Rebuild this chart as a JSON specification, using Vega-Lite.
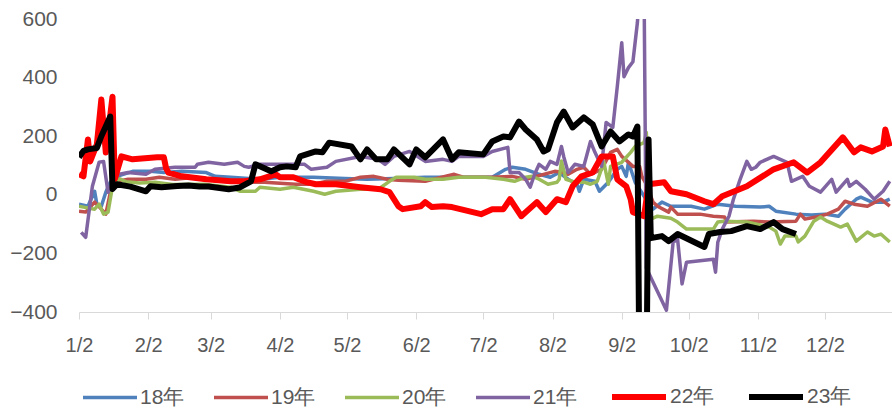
{
"$schema":"https://vega.github.io/schema/vega-lite/v6.json",
"width":813,"height":293,
"autosize":{"type":"none"},
"padding":{"left":79,"top":19,"right":0,"bottom":96},
"background":"white",
"config":{"view":{"stroke":null},"font":"Liberation Sans"},
"data":{"values":[
{"date":"2023-01-02","series":"18年","value":-32},{"date":"2023-01-06","series":"18年","value":-39},{"date":"2023-01-09","series":"18年","value":12},{"date":"2023-01-10","series":"18年","value":-32},{"date":"2023-01-12","series":"18年","value":-39},{"date":"2023-01-14","series":"18年","value":9},{"date":"2023-01-16","series":"18年","value":43},{"date":"2023-01-19","series":"18年","value":63},{"date":"2023-01-26","series":"18年","value":80},{"date":"2023-02-03","series":"18年","value":80},{"date":"2023-02-09","series":"18年","value":76},{"date":"2023-02-17","series":"18年","value":80},{"date":"2023-02-28","series":"18年","value":76},{"date":"2023-03-04","series":"18年","value":63},{"date":"2023-03-11","series":"18年","value":60},{"date":"2023-03-24","series":"18年","value":53},{"date":"2023-04-02","series":"18年","value":60},{"date":"2023-04-17","series":"18年","value":60},{"date":"2023-05-01","series":"18年","value":56},{"date":"2023-05-11","series":"18年","value":53},{"date":"2023-05-23","series":"18年","value":56},{"date":"2023-06-06","series":"18年","value":60},{"date":"2023-06-21","series":"18年","value":60},{"date":"2023-07-06","series":"18年","value":60},{"date":"2023-07-12","series":"18年","value":87},{"date":"2023-07-15","series":"18年","value":94},{"date":"2023-07-21","series":"18年","value":87},{"date":"2023-07-27","series":"18年","value":70},{"date":"2023-08-01","series":"18年","value":60},{"date":"2023-08-05","series":"18年","value":76},{"date":"2023-08-09","series":"18年","value":53},{"date":"2023-08-13","series":"18年","value":36},{"date":"2023-08-14","series":"18年","value":12},{"date":"2023-08-16","series":"18年","value":53},{"date":"2023-08-21","series":"18年","value":46},{"date":"2023-08-23","series":"18年","value":12},{"date":"2023-08-27","series":"18年","value":43},{"date":"2023-08-31","series":"18年","value":87},{"date":"2023-09-02","series":"18年","value":97},{"date":"2023-09-04","series":"18年","value":63},{"date":"2023-09-05","series":"18年","value":111},{"date":"2023-09-08","series":"18年","value":43},{"date":"2023-09-12","series":"18年","value":-5},{"date":"2023-09-16","series":"18年","value":-49},{"date":"2023-09-20","series":"18年","value":-25},{"date":"2023-09-24","series":"18年","value":-39},{"date":"2023-10-03","series":"18年","value":-39},{"date":"2023-10-09","series":"18年","value":-49},{"date":"2023-10-15","series":"18年","value":-32},{"date":"2023-10-23","series":"18年","value":-39},{"date":"2023-11-03","series":"18年","value":-42},{"date":"2023-11-07","series":"18年","value":-39},{"date":"2023-11-10","series":"18年","value":-56},{"date":"2023-11-19","series":"18年","value":-66},{"date":"2023-11-26","series":"18年","value":-69},{"date":"2023-12-02","series":"18年","value":-66},{"date":"2023-12-08","series":"18年","value":-73},{"date":"2023-12-11","series":"18年","value":-49},{"date":"2023-12-16","series":"18年","value":-15},{"date":"2023-12-18","series":"18年","value":-8},{"date":"2023-12-23","series":"18年","value":-25},{"date":"2023-12-28","series":"18年","value":-25},{"date":"2023-12-31","series":"18年","value":-15},
{"date":"2023-01-02","series":"19年","value":-56},{"date":"2023-01-05","series":"19年","value":-59},{"date":"2023-01-09","series":"19年","value":-25},{"date":"2023-01-12","series":"19年","value":-49},{"date":"2023-01-14","series":"19年","value":-66},{"date":"2023-01-17","series":"19年","value":43},{"date":"2023-01-24","series":"19年","value":53},{"date":"2023-02-01","series":"19年","value":53},{"date":"2023-02-07","series":"19年","value":60},{"date":"2023-02-14","series":"19年","value":53},{"date":"2023-02-23","series":"19年","value":60},{"date":"2023-03-11","series":"19年","value":43},{"date":"2023-03-26","series":"19年","value":43},{"date":"2023-04-09","series":"19年","value":36},{"date":"2023-04-17","series":"19年","value":36},{"date":"2023-04-23","series":"19年","value":46},{"date":"2023-05-01","series":"19年","value":46},{"date":"2023-05-08","series":"19年","value":60},{"date":"2023-05-14","series":"19年","value":63},{"date":"2023-05-20","series":"19年","value":53},{"date":"2023-05-25","series":"19年","value":50},{"date":"2023-06-06","series":"19年","value":46},{"date":"2023-06-19","series":"19年","value":70},{"date":"2023-06-23","series":"19年","value":60},{"date":"2023-07-06","series":"19年","value":60},{"date":"2023-07-15","series":"19年","value":63},{"date":"2023-07-21","series":"19年","value":53},{"date":"2023-08-03","series":"19年","value":80},{"date":"2023-08-07","series":"19年","value":76},{"date":"2023-08-09","series":"19年","value":70},{"date":"2023-08-13","series":"19年","value":87},{"date":"2023-08-16","series":"19年","value":94},{"date":"2023-08-19","series":"19年","value":70},{"date":"2023-08-24","series":"19年","value":87},{"date":"2023-08-28","series":"19年","value":145},{"date":"2023-08-31","series":"19年","value":155},{"date":"2023-09-02","series":"19年","value":131},{"date":"2023-09-05","series":"19年","value":111},{"date":"2023-09-07","series":"19年","value":97},{"date":"2023-09-10","series":"19年","value":97},{"date":"2023-09-11","series":"19年","value":63},{"date":"2023-09-13","series":"19年","value":36},{"date":"2023-09-16","series":"19年","value":-25},{"date":"2023-09-18","series":"19年","value":-39},{"date":"2023-09-23","series":"19年","value":-59},{"date":"2023-09-24","series":"19年","value":-42},{"date":"2023-09-27","series":"19年","value":-66},{"date":"2023-10-07","series":"19年","value":-66},{"date":"2023-10-13","series":"19年","value":-73},{"date":"2023-10-18","series":"19年","value":-76},{"date":"2023-10-19","series":"19年","value":-93},{"date":"2023-10-31","series":"19年","value":-90},{"date":"2023-11-07","series":"19年","value":-93},{"date":"2023-11-19","series":"19年","value":-90},{"date":"2023-11-21","series":"19年","value":-66},{"date":"2023-11-23","series":"19年","value":-83},{"date":"2023-11-28","series":"19年","value":-76},{"date":"2023-12-03","series":"19年","value":-66},{"date":"2023-12-08","series":"19年","value":-49},{"date":"2023-12-11","series":"19年","value":-22},{"date":"2023-12-15","series":"19年","value":-32},{"date":"2023-12-21","series":"19年","value":-39},{"date":"2023-12-27","series":"19年","value":-15},{"date":"2023-12-31","series":"19年","value":-39},
{"date":"2023-01-02","series":"20年","value":-39},{"date":"2023-01-04","series":"20年","value":-42},{"date":"2023-01-09","series":"20年","value":-49},{"date":"2023-01-11","series":"20年","value":-32},{"date":"2023-01-13","series":"20年","value":-66},{"date":"2023-01-15","series":"20年","value":-59},{"date":"2023-01-17","series":"20年","value":29},{"date":"2023-01-20","series":"20年","value":55},{"date":"2023-01-23","series":"20年","value":45},{"date":"2023-01-29","series":"20年","value":40},{"date":"2023-02-05","series":"20年","value":43},{"date":"2023-02-13","series":"20年","value":35},{"date":"2023-02-27","series":"20年","value":36},{"date":"2023-03-11","series":"20年","value":26},{"date":"2023-03-15","series":"20年","value":12},{"date":"2023-03-22","series":"20年","value":12},{"date":"2023-03-24","series":"20年","value":26},{"date":"2023-04-02","series":"20年","value":19},{"date":"2023-04-08","series":"20年","value":26},{"date":"2023-04-17","series":"20年","value":12},{"date":"2023-04-22","series":"20年","value":2},{"date":"2023-04-27","series":"20年","value":12},{"date":"2023-05-08","series":"20年","value":19},{"date":"2023-05-16","series":"20年","value":19},{"date":"2023-05-21","series":"20年","value":46},{"date":"2023-05-24","series":"20年","value":60},{"date":"2023-06-01","series":"20年","value":60},{"date":"2023-06-06","series":"20年","value":53},{"date":"2023-06-14","series":"20年","value":53},{"date":"2023-06-21","series":"20年","value":60},{"date":"2023-07-03","series":"20年","value":60},{"date":"2023-07-11","series":"20年","value":53},{"date":"2023-07-16","series":"20年","value":46},{"date":"2023-07-21","series":"20年","value":60},{"date":"2023-07-24","series":"20年","value":63},{"date":"2023-07-27","series":"20年","value":53},{"date":"2023-07-31","series":"20年","value":36},{"date":"2023-08-04","series":"20年","value":43},{"date":"2023-08-05","series":"20年","value":53},{"date":"2023-08-06","series":"20年","value":115},{"date":"2023-08-08","series":"20年","value":53},{"date":"2023-08-12","series":"20年","value":43},{"date":"2023-08-16","series":"20年","value":43},{"date":"2023-08-19","series":"20年","value":36},{"date":"2023-08-22","series":"20年","value":46},{"date":"2023-08-25","series":"20年","value":111},{"date":"2023-08-27","series":"20年","value":36},{"date":"2023-08-28","series":"20年","value":97},{"date":"2023-09-02","series":"20年","value":111},{"date":"2023-09-06","series":"20年","value":145},{"date":"2023-09-08","series":"20年","value":165},{"date":"2023-09-12","series":"20年","value":178},{"date":"2023-09-13","series":"20年","value":213},{"date":"2023-09-15","series":"20年","value":-83},{"date":"2023-09-18","series":"20年","value":-73},{"date":"2023-09-24","series":"20年","value":-80},{"date":"2023-09-27","series":"20年","value":-93},{"date":"2023-10-01","series":"20年","value":-117},{"date":"2023-10-13","series":"20年","value":-117},{"date":"2023-10-15","series":"20年","value":-93},{"date":"2023-10-18","series":"20年","value":-90},{"date":"2023-10-28","series":"20年","value":-93},{"date":"2023-11-07","series":"20年","value":-110},{"date":"2023-11-10","series":"20年","value":-124},{"date":"2023-11-12","series":"20年","value":-168},{"date":"2023-11-14","series":"20年","value":-141},{"date":"2023-11-19","series":"20年","value":-141},{"date":"2023-11-20","series":"20年","value":-161},{"date":"2023-11-23","series":"20年","value":-141},{"date":"2023-11-27","series":"20年","value":-90},{"date":"2023-11-30","series":"20年","value":-76},{"date":"2023-12-03","series":"20年","value":-90},{"date":"2023-12-09","series":"20年","value":-110},{"date":"2023-12-12","series":"20年","value":-100},{"date":"2023-12-16","series":"20年","value":-158},{"date":"2023-12-21","series":"20年","value":-127},{"date":"2023-12-24","series":"20年","value":-141},{"date":"2023-12-27","series":"20年","value":-134},{"date":"2023-12-31","series":"20年","value":-161},
{"date":"2023-01-03","series":"21年","value":-128},{"date":"2023-01-05","series":"21年","value":-145},{"date":"2023-01-08","series":"21年","value":29},{"date":"2023-01-11","series":"21年","value":111},{"date":"2023-01-13","series":"21年","value":114},{"date":"2023-01-15","series":"21年","value":9},{"date":"2023-01-18","series":"21年","value":53},{"date":"2023-01-20","series":"21年","value":70},{"date":"2023-01-24","series":"21年","value":76},{"date":"2023-02-01","series":"21年","value":70},{"date":"2023-02-05","series":"21年","value":87},{"date":"2023-02-14","series":"21年","value":94},{"date":"2023-02-23","series":"21年","value":94},{"date":"2023-02-24","series":"21年","value":104},{"date":"2023-03-01","series":"21年","value":111},{"date":"2023-03-08","series":"21年","value":104},{"date":"2023-03-14","series":"21年","value":111},{"date":"2023-03-17","series":"21年","value":97},{"date":"2023-03-19","series":"21年","value":94},{"date":"2023-03-24","series":"21年","value":104},{"date":"2023-04-05","series":"21年","value":104},{"date":"2023-04-13","series":"21年","value":104},{"date":"2023-04-16","series":"21年","value":87},{"date":"2023-04-23","series":"21年","value":94},{"date":"2023-04-27","series":"21年","value":114},{"date":"2023-05-08","series":"21年","value":131},{"date":"2023-05-16","series":"21年","value":121},{"date":"2023-05-19","series":"21年","value":104},{"date":"2023-05-23","series":"21年","value":131},{"date":"2023-05-30","series":"21年","value":148},{"date":"2023-06-06","series":"21年","value":114},{"date":"2023-06-14","series":"21年","value":121},{"date":"2023-06-18","series":"21年","value":114},{"date":"2023-06-21","series":"21年","value":131},{"date":"2023-07-02","series":"21年","value":131},{"date":"2023-07-06","series":"21年","value":148},{"date":"2023-07-13","series":"21年","value":162},{"date":"2023-07-14","series":"21年","value":76},{"date":"2023-07-18","series":"21年","value":76},{"date":"2023-07-21","series":"21年","value":53},{"date":"2023-07-23","series":"21年","value":26},{"date":"2023-07-25","series":"21年","value":70},{"date":"2023-07-27","series":"21年","value":104},{"date":"2023-07-30","series":"21年","value":87},{"date":"2023-08-01","series":"21年","value":114},{"date":"2023-08-04","series":"21年","value":104},{"date":"2023-08-06","series":"21年","value":165},{"date":"2023-08-07","series":"21年","value":131},{"date":"2023-08-09","series":"21年","value":76},{"date":"2023-08-12","series":"21年","value":104},{"date":"2023-08-16","series":"21年","value":97},{"date":"2023-08-19","series":"21年","value":182},{"date":"2023-08-21","series":"21年","value":145},{"date":"2023-08-24","series":"21年","value":97},{"date":"2023-08-26","series":"21年","value":247},{"date":"2023-08-29","series":"21年","value":230},{"date":"2023-08-31","series":"21年","value":369},{"date":"2023-09-02","series":"21年","value":519},{"date":"2023-09-03","series":"21年","value":403},{"date":"2023-09-05","series":"21年","value":434},{"date":"2023-09-07","series":"21年","value":454},{"date":"2023-09-09","series":"21年","value":587},{"date":"2023-09-10","series":"21年","value":700},{"date":"2023-09-12","series":"21年","value":700},{"date":"2023-09-13","series":"21年","value":-250},{"date":"2023-09-18","series":"21年","value":-330},{"date":"2023-09-22","series":"21年","value":-394},{"date":"2023-09-25","series":"21年","value":-162},{"date":"2023-09-27","series":"21年","value":-151},{"date":"2023-09-29","series":"21年","value":-304},{"date":"2023-10-01","series":"21年","value":-230},{"date":"2023-10-07","series":"21年","value":-225},{"date":"2023-10-13","series":"21年","value":-220},{"date":"2023-10-14","series":"21年","value":-264},{"date":"2023-10-15","series":"21年","value":-162},{"date":"2023-10-17","series":"21年","value":-117},{"date":"2023-10-20","series":"21年","value":-73},{"date":"2023-10-22","series":"21年","value":-15},{"date":"2023-10-25","series":"21年","value":53},{"date":"2023-10-28","series":"21年","value":114},{"date":"2023-10-30","series":"21年","value":87},{"date":"2023-11-01","series":"21年","value":94},{"date":"2023-11-03","series":"21年","value":111},{"date":"2023-11-09","series":"21年","value":131},{"date":"2023-11-12","series":"21年","value":121},{"date":"2023-11-15","series":"21年","value":111},{"date":"2023-11-17","series":"21年","value":46},{"date":"2023-11-22","series":"21年","value":63},{"date":"2023-11-25","series":"21年","value":29},{"date":"2023-11-30","series":"21年","value":9},{"date":"2023-12-05","series":"21年","value":53},{"date":"2023-12-07","series":"21年","value":9},{"date":"2023-12-12","series":"21年","value":53},{"date":"2023-12-13","series":"21年","value":29},{"date":"2023-12-16","series":"21年","value":46},{"date":"2023-12-20","series":"21年","value":19},{"date":"2023-12-24","series":"21年","value":-15},{"date":"2023-12-28","series":"21年","value":12},{"date":"2023-12-31","series":"21年","value":46},
{"date":"2023-01-02","series":"22年","value":70},{"date":"2023-01-04","series":"22年","value":63},{"date":"2023-01-06","series":"22年","value":189},{"date":"2023-01-07","series":"22年","value":114},{"date":"2023-01-10","series":"22年","value":172},{"date":"2023-01-12","series":"22年","value":325},{"date":"2023-01-14","series":"22年","value":144},{"date":"2023-01-17","series":"22年","value":335},{"date":"2023-01-18","series":"22年","value":53},{"date":"2023-01-21","series":"22年","value":131},{"date":"2023-01-26","series":"22年","value":121},{"date":"2023-02-06","series":"22年","value":128},{"date":"2023-02-09","series":"22年","value":128},{"date":"2023-02-10","series":"22年","value":90},{"date":"2023-02-11","series":"22年","value":76},{"date":"2023-02-17","series":"22年","value":63},{"date":"2023-02-28","series":"22年","value":53},{"date":"2023-03-11","series":"22年","value":46},{"date":"2023-03-17","series":"22年","value":46},{"date":"2023-03-24","series":"22年","value":53},{"date":"2023-03-31","series":"22年","value":70},{"date":"2023-04-02","series":"22年","value":60},{"date":"2023-04-08","series":"22年","value":60},{"date":"2023-04-14","series":"22年","value":43},{"date":"2023-04-18","series":"22年","value":36},{"date":"2023-04-27","series":"22年","value":36},{"date":"2023-05-08","series":"22年","value":26},{"date":"2023-05-17","series":"22年","value":19},{"date":"2023-05-21","series":"22年","value":9},{"date":"2023-05-23","series":"22年","value":-15},{"date":"2023-05-25","series":"22年","value":-39},{"date":"2023-05-27","series":"22年","value":-49},{"date":"2023-06-04","series":"22年","value":-39},{"date":"2023-06-06","series":"22年","value":-25},{"date":"2023-06-09","series":"22年","value":-42},{"date":"2023-06-14","series":"22年","value":-39},{"date":"2023-06-18","series":"22年","value":-42},{"date":"2023-07-01","series":"22年","value":-66},{"date":"2023-07-06","series":"22年","value":-49},{"date":"2023-07-11","series":"22年","value":-49},{"date":"2023-07-14","series":"22年","value":-15},{"date":"2023-07-19","series":"22年","value":-73},{"date":"2023-07-26","series":"22年","value":-25},{"date":"2023-07-30","series":"22年","value":-59},{"date":"2023-08-04","series":"22年","value":-15},{"date":"2023-08-08","series":"22年","value":-25},{"date":"2023-08-11","series":"22年","value":29},{"date":"2023-08-15","series":"22年","value":63},{"date":"2023-08-20","series":"22年","value":76},{"date":"2023-08-24","series":"22年","value":131},{"date":"2023-08-29","series":"22年","value":131},{"date":"2023-08-31","series":"22年","value":53},{"date":"2023-09-04","series":"22年","value":29},{"date":"2023-09-06","series":"22年","value":-15},{"date":"2023-09-07","series":"22年","value":-59},{"date":"2023-09-12","series":"22年","value":-73},{"date":"2023-09-14","series":"22年","value":36},{"date":"2023-09-21","series":"22年","value":43},{"date":"2023-09-24","series":"22年","value":12},{"date":"2023-10-01","series":"22年","value":2},{"date":"2023-10-09","series":"22年","value":-22},{"date":"2023-10-13","series":"22年","value":-32},{"date":"2023-10-17","series":"22年","value":-5},{"date":"2023-10-28","series":"22年","value":29},{"date":"2023-11-09","series":"22年","value":87},{"date":"2023-11-18","series":"22年","value":111},{"date":"2023-11-24","series":"22年","value":76},{"date":"2023-11-30","series":"22年","value":111},{"date":"2023-12-10","series":"22年","value":196},{"date":"2023-12-15","series":"22年","value":145},{"date":"2023-12-18","series":"22年","value":162},{"date":"2023-12-23","series":"22年","value":148},{"date":"2023-12-28","series":"22年","value":165},{"date":"2023-12-29","series":"22年","value":223},{"date":"2023-12-31","series":"22年","value":165},
{"date":"2023-01-02","series":"23年","value":128},{"date":"2023-01-04","series":"23年","value":150},{"date":"2023-01-06","series":"23年","value":155},{"date":"2023-01-10","series":"23年","value":160},{"date":"2023-01-12","series":"23年","value":200},{"date":"2023-01-16","series":"23年","value":267},{"date":"2023-01-17","series":"23年","value":20},{"date":"2023-01-19","series":"23年","value":36},{"date":"2023-01-25","series":"23年","value":28},{"date":"2023-02-01","series":"23年","value":12},{"date":"2023-02-03","series":"23年","value":29},{"date":"2023-02-08","series":"23年","value":26},{"date":"2023-02-15","series":"23年","value":30},{"date":"2023-02-20","series":"23年","value":32},{"date":"2023-02-25","series":"23年","value":28},{"date":"2023-03-01","series":"23年","value":28},{"date":"2023-03-10","series":"23年","value":19},{"date":"2023-03-15","series":"23年","value":25},{"date":"2023-03-20","series":"23年","value":46},{"date":"2023-03-22","series":"23年","value":104},{"date":"2023-03-29","series":"23年","value":80},{"date":"2023-04-02","series":"23年","value":94},{"date":"2023-04-05","series":"23年","value":97},{"date":"2023-04-09","series":"23年","value":94},{"date":"2023-04-11","series":"23年","value":131},{"date":"2023-04-18","series":"23年","value":148},{"date":"2023-04-21","series":"23年","value":145},{"date":"2023-04-24","series":"23年","value":178},{"date":"2023-05-04","series":"23年","value":165},{"date":"2023-05-08","series":"23年","value":121},{"date":"2023-05-11","series":"23年","value":155},{"date":"2023-05-15","series":"23年","value":121},{"date":"2023-05-20","series":"23年","value":121},{"date":"2023-05-23","series":"23年","value":155},{"date":"2023-05-30","series":"23年","value":104},{"date":"2023-06-02","series":"23年","value":155},{"date":"2023-06-06","series":"23年","value":128},{"date":"2023-06-14","series":"23年","value":189},{"date":"2023-06-18","series":"23年","value":121},{"date":"2023-06-21","series":"23年","value":145},{"date":"2023-07-02","series":"23年","value":138},{"date":"2023-07-06","series":"23年","value":182},{"date":"2023-07-11","series":"23年","value":199},{"date":"2023-07-14","series":"23年","value":196},{"date":"2023-07-18","series":"23年","value":250},{"date":"2023-07-21","series":"23年","value":223},{"date":"2023-07-26","series":"23年","value":189},{"date":"2023-07-29","series":"23年","value":148},{"date":"2023-07-31","series":"23年","value":155},{"date":"2023-08-04","series":"23年","value":247},{"date":"2023-08-07","series":"23年","value":284},{"date":"2023-08-11","series":"23年","value":230},{"date":"2023-08-16","series":"23年","value":264},{"date":"2023-08-20","series":"23年","value":240},{"date":"2023-08-24","series":"23年","value":165},{"date":"2023-08-28","series":"23年","value":216},{"date":"2023-09-01","series":"23年","value":182},{"date":"2023-09-05","series":"23年","value":206},{"date":"2023-09-07","series":"23年","value":199},{"date":"2023-09-09","series":"23年","value":233},{"date":"2023-09-10","series":"23年","value":-700},{"date":"2023-09-13","series":"23年","value":-700},{"date":"2023-09-14","series":"23年","value":189},{"date":"2023-09-15","series":"23年","value":-148},{"date":"2023-09-20","series":"23年","value":-141},{"date":"2023-09-23","series":"23年","value":-158},{"date":"2023-09-27","series":"23年","value":-134},{"date":"2023-10-09","series":"23年","value":-178},{"date":"2023-10-11","series":"23年","value":-134},{"date":"2023-10-16","series":"23年","value":-127},{"date":"2023-10-21","series":"23年","value":-124},{"date":"2023-10-28","series":"23年","value":-107},{"date":"2023-11-03","series":"23年","value":-117},{"date":"2023-11-09","series":"23年","value":-93},{"date":"2023-11-13","series":"23年","value":-117},{"date":"2023-11-19","series":"23年","value":-134}
]},
"mark":{"type":"line","clip":true,"strokeJoin":"round","strokeCap":"butt"},
"encoding":{
"x":{"field":"date","type":"temporal",
"scale":{"type":"utc","domain":[{"year":2023,"month":1,"date":2,"utc":true},{"year":2024,"month":1,"date":1,"utc":true}]},
"axis":{"title":null,"grid":false,"values":[{"year":2023,"month":1,"date":2,"utc":true},{"year":2023,"month":2,"date":2,"utc":true},{"year":2023,"month":3,"date":2,"utc":true},{"year":2023,"month":4,"date":2,"utc":true},{"year":2023,"month":5,"date":2,"utc":true},{"year":2023,"month":6,"date":2,"utc":true},{"year":2023,"month":7,"date":2,"utc":true},{"year":2023,"month":8,"date":2,"utc":true},{"year":2023,"month":9,"date":2,"utc":true},{"year":2023,"month":10,"date":2,"utc":true},{"year":2023,"month":11,"date":2,"utc":true},{"year":2023,"month":12,"date":2,"utc":true}],
"labelExpr":"utcFormat(datum.value,'%-m/%-d')","domainColor":"#D9D9D9","domainWidth":1,"tickColor":"#D9D9D9","tickSize":7,"labelFontSize":20,"labelColor":"#595959","labelPadding":16,"labelOverlap":false,"labelFlush":false}},
"y":{"field":"value","type":"quantitative","scale":{"domain":[-400,600],"nice":false,"zero":false},
"axis":{"title":null,"values":[-400,-200,0,200,400,600],"grid":false,"domain":false,"ticks":false,"labelFontSize":21,"labelColor":"#595959","labelPadding":22}},
"color":{"field":"series","type":"nominal","scale":{"domain":["18年","19年","20年","21年","22年","23年"],"range":["#4F81BD","#C0504D","#9BBB59","#8064A2","#FF0000","#000000"]},
"legend":{"title":null,"orient":"none","legendX":2,"legendY":348,"direction":"horizontal","symbolType":"stroke","symbolSize":2916,"labelFontSize":21,"labelColor":"#595959","columnPadding":22,"labelOffset":1,"padding":0}},
"strokeWidth":{"field":"series","type":"nominal","scale":{"type":"ordinal","domain":["18年","19年","20年","21年","22年","23年"],"range":[3.5,3.5,3.5,3.5,6,6]},
"legend":{"title":null,"orient":"none","legendX":2,"legendY":348,"direction":"horizontal","symbolType":"stroke","symbolSize":2916,"labelFontSize":21,"labelColor":"#595959","columnPadding":22,"labelOffset":1,"padding":0}}
}
}
